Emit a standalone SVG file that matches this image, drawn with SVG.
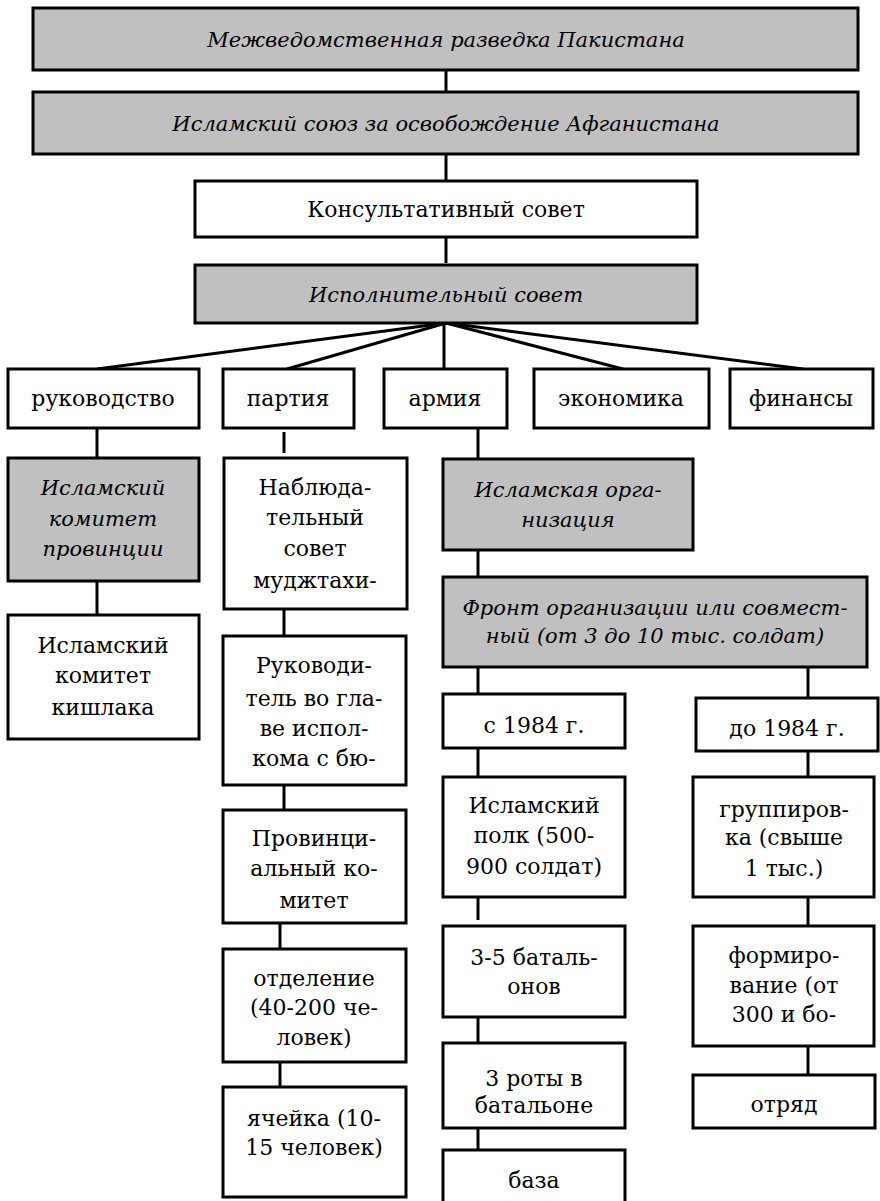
<svg xmlns="http://www.w3.org/2000/svg" width="880" height="1201" viewBox="0 0 880 1201">
<style>
.b{fill:#fff;stroke:#000;stroke-width:3}
.g{fill:#c0c0c0;stroke:#000;stroke-width:3}
.t{font-family:"DejaVu Serif","Liberation Serif",serif;font-size:22px;text-anchor:middle;fill:#000}
.i{font-style:italic;font-size:21px}
.c line{stroke:#000;stroke-width:3}
</style>
<rect width="880" height="1201" fill="#fff"/>
<g class="c" id="connectors">
<line x1="446" y1="70" x2="446" y2="91"/>
<line x1="446" y1="154" x2="446" y2="180"/>
<line x1="446" y1="237" x2="446" y2="263"/>
<line x1="446" y1="323" x2="97" y2="369"/>
<line x1="446" y1="323" x2="287" y2="369"/>
<line x1="444" y1="323" x2="444" y2="369"/>
<line x1="446" y1="323" x2="623" y2="369"/>
<line x1="446" y1="323" x2="803" y2="369"/>
<line x1="97" y1="428" x2="97" y2="458"/>
<line x1="97" y1="581" x2="97" y2="615"/>
<line x1="284" y1="432" x2="284" y2="453"/>
<line x1="284" y1="609" x2="284" y2="636"/>
<line x1="284" y1="785" x2="284" y2="810"/>
<line x1="280" y1="923" x2="280" y2="949"/>
<line x1="280" y1="1062" x2="280" y2="1089"/>
<line x1="478" y1="428" x2="478" y2="459"/>
<line x1="478" y1="550" x2="478" y2="580"/>
<line x1="478" y1="667" x2="478" y2="697"/>
<line x1="478" y1="748" x2="478" y2="777"/>
<line x1="478" y1="897" x2="478" y2="920"/>
<line x1="478" y1="1013" x2="478" y2="1043"/>
<line x1="478" y1="1128" x2="478" y2="1150"/>
<line x1="808" y1="667" x2="808" y2="698"/>
<line x1="808" y1="746" x2="808" y2="777"/>
<line x1="808" y1="897" x2="808" y2="926"/>
<line x1="808" y1="1046" x2="808" y2="1075"/>
</g>
<g id="n1"><rect class="g" x="33" y="8" width="825" height="62"/><text class="t i" x="446" y="47">Межведомственная разведка Пакистана</text></g>
<g id="n2"><rect class="g" x="33" y="92" width="825" height="62"/><text class="t i" x="446" y="131">Исламский союз за освобождение Афганистана</text></g>
<g id="n3"><rect class="b" x="195" y="181" width="502" height="56"/><text class="t" x="446" y="217">Консультативный совет</text></g>
<g id="n4"><rect class="g" x="195" y="265" width="502" height="58"/><text class="t i" x="446" y="302">Исполнительный совет</text></g>
<g id="n5"><rect class="b" x="8" y="369" width="191" height="59"/><text class="t" x="103" y="406">руководство</text></g>
<g id="n6"><rect class="b" x="223" y="369" width="131" height="59"/><text class="t" x="288" y="406">партия</text></g>
<g id="n7"><rect class="b" x="384" y="369" width="123" height="59"/><text class="t" x="445" y="406">армия</text></g>
<g id="n8"><rect class="b" x="534" y="369" width="175" height="59"/><text class="t" x="621" y="406">экономика</text></g>
<g id="n9"><rect class="b" x="730" y="369" width="143" height="59"/><text class="t" x="801" y="406">финансы</text></g>
<g id="n10"><rect class="g" x="8" y="458" width="191" height="123"/><text class="t i" x="103"><tspan x="103" y="495">Исламский</tspan><tspan x="103" y="526">комитет</tspan><tspan x="103" y="556">провинции</tspan></text></g>
<g id="n11"><rect class="b" x="8" y="615" width="191" height="124"/><text class="t"><tspan x="103" y="653">Исламский</tspan><tspan x="103" y="683">комитет</tspan><tspan x="103" y="715">кишлака</tspan></text></g>
<g id="n12"><rect class="b" x="224" y="458" width="183" height="151"/><text class="t"><tspan x="315" y="495">Наблюда-</tspan><tspan x="315" y="525">тельный</tspan><tspan x="315" y="556">совет</tspan><tspan x="315" y="588">муджтахи-</tspan></text></g>
<g id="n13"><rect class="b" x="223" y="636" width="183" height="149"/><text class="t"><tspan x="314" y="673">Руководи-</tspan><tspan x="314" y="706">тель во гла-</tspan><tspan x="314" y="736">ве испол-</tspan><tspan x="314" y="766">кома с бю-</tspan></text></g>
<g id="n14"><rect class="b" x="223" y="810" width="183" height="113"/><text class="t"><tspan x="314" y="846">Провинци-</tspan><tspan x="314" y="876">альный ко-</tspan><tspan x="314" y="908">митет</tspan></text></g>
<g id="n15"><rect class="b" x="223" y="949" width="183" height="113"/><text class="t"><tspan x="314" y="986">отделение</tspan><tspan x="314" y="1015">(40-200 че-</tspan><tspan x="314" y="1045">ловек)</tspan></text></g>
<g id="n16"><rect class="b" x="223" y="1087" width="183" height="110"/><text class="t"><tspan x="314" y="1126">ячейка (10-</tspan><tspan x="314" y="1155">15 человек)</tspan></text></g>
<g id="n17"><rect class="g" x="443" y="459" width="250" height="91"/><text class="t i"><tspan x="568" y="497">Исламская орга-</tspan><tspan x="568" y="527">низация</tspan></text></g>
<g id="n18"><rect class="g" x="443" y="577" width="424" height="90"/><text class="t i"><tspan x="655" y="615">Фронт организации или совмест-</tspan><tspan x="655" y="643">ный (от 3 до 10 тыс. солдат)</tspan></text></g>
<g id="n19"><rect class="b" x="443" y="694" width="182" height="54"/><text class="t" x="534" y="733">с 1984 г.</text></g>
<g id="n20"><rect class="b" x="443" y="777" width="182" height="120"/><text class="t"><tspan x="534" y="813">Исламский</tspan><tspan x="534" y="843">полк (500-</tspan><tspan x="534" y="874">900 солдат)</tspan></text></g>
<g id="n21"><rect class="b" x="443" y="926" width="182" height="91"/><text class="t"><tspan x="534" y="965">3-5 баталь-</tspan><tspan x="534" y="994">онов</tspan></text></g>
<g id="n22"><rect class="b" x="443" y="1043" width="182" height="85"/><text class="t"><tspan x="534" y="1086">3 роты в</tspan><tspan x="534" y="1113">батальоне</tspan></text></g>
<g id="n23"><rect class="b" x="443" y="1150" width="182" height="70"/><text class="t" x="534" y="1188">база</text></g>
<g id="n24"><rect class="b" x="696" y="698" width="182" height="53"/><text class="t" x="787" y="736">до 1984 г.</text></g>
<g id="n25"><rect class="b" x="693" y="777" width="181" height="120"/><text class="t"><tspan x="784" y="817">группиров-</tspan><tspan x="784" y="845">ка (свыше</tspan><tspan x="784" y="876">1 тыс.)</tspan></text></g>
<g id="n26"><rect class="b" x="693" y="926" width="181" height="120"/><text class="t"><tspan x="784" y="963">формиро-</tspan><tspan x="784" y="993">вание (от</tspan><tspan x="784" y="1022">300 и бо-</tspan></text></g>
<g id="n27"><rect class="b" x="693" y="1075" width="182" height="53"/><text class="t" x="784" y="1112">отряд</text></g>
</svg>
